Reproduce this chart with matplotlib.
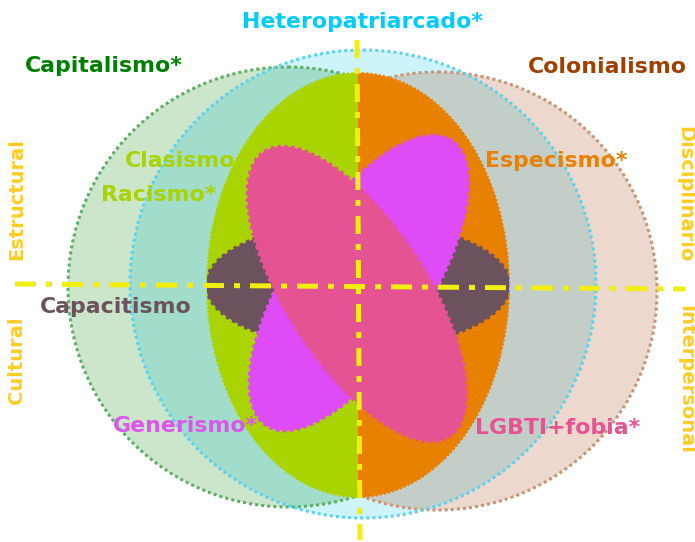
import matplotlib
matplotlib.use("Agg")
from matplotlib import pyplot as plt
from matplotlib.patches import Ellipse, Rectangle

# outer systems: (name, centre x, centre y, width, height, fill, edge)
outer_names = ["Capitalismo*", "Colonialismo", "Heteropatriarcado*"]
outer_cx = [288, 438, 363]
outer_cy = [287, 291, 284]
outer_w = [440, 438, 466]
outer_h = [440, 438, 468]
outer_fill = ["#cce6cc", "#ecd8cc", "#cdf3fb"]
outer_edge = ["#5fae68", "#c89577", "#5ed2ea"]
# multiply-blend colours where the cyan circle overlaps the others
overlap_fill = ["#a2dccb", "#c4cec8"]

# inner oppressions
inner_cx, inner_cy, inner_w, inner_h = 358, 285, 302, 424
inner_left, inner_right = "#aad400", "#e88000"
capac = dict(cx=358, cy=285, w=304, h=126, color="#6b525c")
gener = dict(cx=359, cy=283, w=340, h=140, angle=-57, color="#dd4cf6")
lgbti = dict(cx=357, cy=294, w=340, h=140, angle=57, color="#e65393")

labels = ["Heteropatriarcado*", "Capitalismo*", "Colonialismo", "Clasismo",
          "Racismo*", "Especismo*", "Capacitismo", "Generismo*", "LGBTI+fobia*"]
label_x = [363, 104, 607, 180, 159, 556, 116, 186, 558]
label_y = [22, 66, 67, 161, 195, 161, 307, 426, 428]
label_colors = ["#00ccff", "#008000", "#a04000", "#aad400", "#aad400",
                "#e88000", "#6b525c", "#dd55ee", "#e65393"]

side_labels = ["Estructural", "Cultural", "Disciplinario", "Interpersonal"]
side_x = [17, 17, 685, 686]
side_y = [199, 360, 194, 379]
side_rot = [90, 90, -90, -90]

fig = plt.figure(figsize=(6.95, 5.42), dpi=100)
ax = fig.add_axes([0, 0, 1, 1])
ax.set_xlim(0, 695)
ax.set_ylim(542, 0)
ax.axis("off")

dots = (0, (1, 1))
for i in range(3):
    ax.add_patch(Ellipse((outer_cx[i], outer_cy[i]), outer_w[i], outer_h[i],
                         facecolor=outer_fill[i], edgecolor="none", zorder=1))
for i in range(2):
    c = Ellipse((outer_cx[2], outer_cy[2]), outer_w[2], outer_h[2],
                facecolor=overlap_fill[i], edgecolor="none", zorder=2)
    ax.add_patch(c)
    c.set_clip_path(Ellipse((outer_cx[i], outer_cy[i]), outer_w[i], outer_h[i],
                            transform=ax.transData))
for i in range(3):
    ax.add_patch(Ellipse((outer_cx[i], outer_cy[i]), outer_w[i], outer_h[i],
                         facecolor="none", edgecolor=outer_edge[i], lw=2.2,
                         linestyle=dots, zorder=3))

# inner ellipse split in two halves
for col, x0 in [(inner_left, 0), (inner_right, 358)]:
    half = Ellipse((inner_cx, inner_cy), inner_w, inner_h, facecolor=col,
                   edgecolor=col, lw=1.5, linestyle=dots, zorder=4)
    ax.add_patch(half)
    half.set_clip_path(Rectangle((x0, 0), 358 if x0 == 0 else 337, 542,
                                 transform=ax.transData))

# capacitismo, clipped to the inner ellipse
cap = Ellipse((capac["cx"], capac["cy"]), capac["w"], capac["h"],
              facecolor=capac["color"], edgecolor=capac["color"], lw=2.5,
              linestyle=dots, zorder=5)
ax.add_patch(cap)
cap.set_clip_path(Ellipse((inner_cx, inner_cy), inner_w, inner_h,
                          transform=ax.transData))

for s, z in [(gener, 6), (lgbti, 7)]:
    ax.add_patch(Ellipse((s["cx"], s["cy"]), s["w"], s["h"], angle=s["angle"],
                         facecolor=s["color"], edgecolor=s["color"], lw=2.5,
                         linestyle=dots, zorder=z))

# axes of the diagram
ax.plot([15, 685], [284, 289], color="#f2ee10", lw=3.6,
        dashes=(4.2, 2.0, 1.2, 2.0), zorder=8, solid_capstyle="butt")
ax.plot([357, 360], [40, 540], color="#f2ee10", lw=3.6,
        dashes=(3.6, 2.0, 1.2, 2.0), zorder=8, solid_capstyle="butt")

for t, x, y, c in zip(labels, label_x, label_y, label_colors):
    ax.text(x, y, t, color=c, fontsize=15.8, fontweight="bold",
            ha="center", va="center", zorder=9)
for t, x, y, r in zip(side_labels, side_x, side_y, side_rot):
    ax.text(x, y, t, color="#ffcc22", fontsize=14, fontweight="bold",
            rotation=r, ha="center", va="center", zorder=9)

fig.savefig("out.png", dpi=100)
